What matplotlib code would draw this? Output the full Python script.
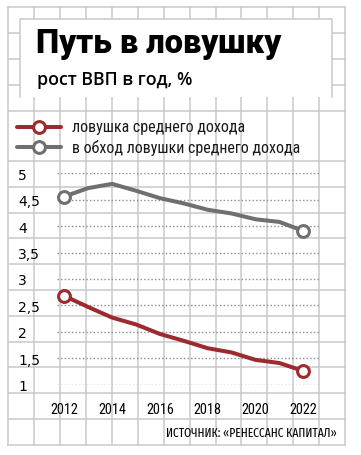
import matplotlib
matplotlib.use('Agg')
import matplotlib.pyplot as plt
from matplotlib.patches import Rectangle

# data
years = [2012, 2013, 2014, 2015, 2016, 2017, 2018, 2019, 2020, 2021, 2022]
trap = [2.68, 2.47, 2.27, 2.14, 1.96, 1.83, 1.69, 1.61, 1.47, 1.41, 1.26]
bypass = [4.56, 4.72, 4.80, 4.67, 4.53, 4.43, 4.31, 4.24, 4.13, 4.08, 3.91]
series_labels = ['ловушка среднего дохода', 'в обход ловушки среднего дохода']
y_ticks = [1, 1.5, 2, 2.5, 3, 3.5, 4, 4.5, 5]
x_ticks = [2012, 2014, 2016, 2018, 2020, 2022]

RED = '#9c2a2e'
GRAY = '#6e6f71'
GRID = '#c9c9c9'
W, H = 361, 456

fig = plt.figure(figsize=(W / 100, H / 100), dpi=100)
fig.patch.set_facecolor('white')

# background "graph paper" in pixel coords
bg = fig.add_axes([0, 0, 1, 1])
bg.set_xlim(0, W)
bg.set_ylim(H, 0)
bg.axis('off')

gx = [8.3 + 25.9 * k for k in range(14)]
gy = [8, 34, 60, 86, 112] + [162 + 25.8 * k for k in range(12)]
for x in gx:
    bg.plot([x, x], [8, 446], color=GRID, lw=1.1, zorder=1)
for y in gy:
    bg.plot([8.3, 345], [y, y], color=GRID, lw=1.1, zorder=1)

# title box
bg.add_patch(Rectangle((20, 20), 312, 78, facecolor='white', edgecolor='none', zorder=2))
bg.plot([20, 20, 332, 332], [98, 20, 20, 98], color=GRID, lw=1.1, zorder=3)

renderer = fig.canvas.get_renderer()


def fit(t, width_px):
    bb = t.get_window_extent(renderer)
    t.set_fontsize(t.get_fontsize() * width_px / bb.width)


title = bg.text(36, 53.5, 'Путь в ловушку', family='Roboto', weight=900,
                fontsize=20, color='black', va='baseline', ha='left', zorder=4)
fit(title, 246)
sub = bg.text(37, 85, 'рост ВВП в год, %', family='Open Sans', weight=600,
              fontsize=10, color='black', va='baseline', ha='left', zorder=4)
fit(sub, 155)

# legend
for (yy, col, lab, wpx) in [(128, RED, series_labels[0], 173), (148, GRAY, series_labels[1], 228)]:
    bg.plot([17, 61], [yy, yy], color=col, lw=2.9, solid_capstyle='round', zorder=4)
    bg.plot([39], [yy], 'o', ms=8.5, mfc='white', mec=col, mew=2.2, zorder=5)
    t = bg.text(72, yy, lab, family='Roboto Condensed', fontsize=10, color='#1a1a1a',
                va='center', ha='left', zorder=4)
    fit(t, wpx)

src = bg.text(337, 433, 'ИСТОЧНИК: «РЕНЕССАНС КАПИТАЛ»', family='Fira Sans Extra Condensed',
              fontsize=9, color='black', va='center', ha='right', zorder=4)
fit(src, 171)

# data axes
left, right, top, bottom = 57, 319, 174.3, 385.7
ax = fig.add_axes([left / W, (H - bottom) / H, (right - left) / W, (bottom - top) / H])
ax.patch.set_alpha(0)
for s in ax.spines.values():
    s.set_visible(False)
ax.set_ylim(1, 5)
ax.set_xlim(2012 - 7.3 / 23.9, 2022 + 15.7 / 23.9)

for v in y_ticks:
    ax.axhline(v, color='#8c8c8c', lw=1.0, ls=(0, (1, 1.6)), zorder=1)

ax.plot(years, bypass, color=GRAY, lw=2.9, marker='o', markevery=[0, len(years) - 1],
        ms=8.5, mfc='white', mec=GRAY, mew=2.2, clip_on=False, zorder=3)
ax.plot(years, trap, color=RED, lw=2.9, marker='o', markevery=[0, len(years) - 1],
        ms=8.5, mfc='white', mec=RED, mew=2.2, clip_on=False, zorder=3)

ax.set_yticks(y_ticks)
ax.set_yticklabels([f'{v:g}'.replace('.', ',') for v in y_ticks], family='DejaVu Sans',
                   fontsize=10, ha='left')
ax.tick_params(axis='y', length=0, pad=(left - 18) * 0.72)
ax.set_xticks(x_ticks)
ax.set_xticklabels([str(x) for x in x_ticks], family='Roboto Condensed', fontsize=10.3)
ax.tick_params(axis='x', length=0, pad=12.5)

fig.savefig('out.png', dpi=100, facecolor='white')
